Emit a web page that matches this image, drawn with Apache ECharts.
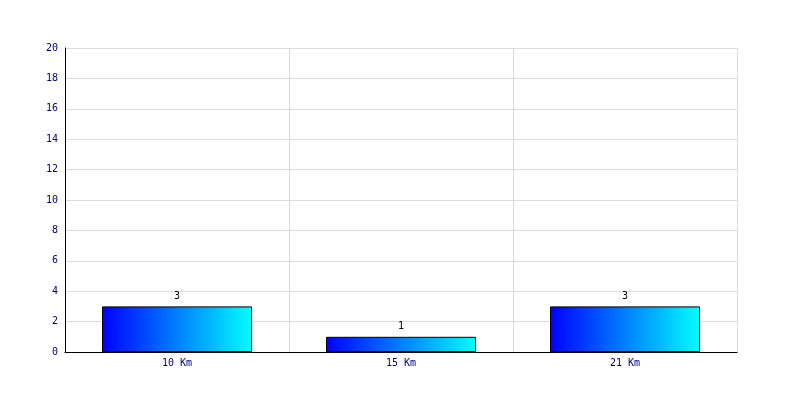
<!DOCTYPE html>
<html><head><meta charset="utf-8">
<script src="https://cdn.jsdelivr.net/npm/echarts@6/dist/echarts.min.js"></script>
<style>html,body{margin:0;padding:0;background:#fff}#c{width:800px;height:400px}</style>
</head><body><div id="c"></div>
<script>
var categories = ['10 Km', '15 Km', '21 Km'];
var values = [3, 1, 3];
var yMin = 0, yMax = 20, yInterval = 2;

var chart = echarts.init(document.getElementById('c'), null, {renderer: 'canvas'});
var font = 'DejaVu Sans Mono';
chart.setOption({
  animation: false,
  backgroundColor: '#fff',
  grid: {left: 65, right: 63, top: 48, bottom: 48},
  xAxis: {
    type: 'category', data: categories, boundaryGap: true,
    axisLine: {lineStyle: {color: '#000', width: 1}},
    axisTick: {show: false},
    axisLabel: {color: '#000080', fontFamily: font, fontSize: 10, margin: 6},
    splitLine: {show: true, lineStyle: {color: '#dddddd', width: 1}}
  },
  yAxis: {
    type: 'value', min: yMin, max: yMax, interval: yInterval,
    axisLine: {show: true, lineStyle: {color: '#000', width: 1}},
    axisTick: {show: false},
    axisLabel: {color: '#000080', fontFamily: font, fontSize: 10, margin: 7},
    splitLine: {show: true, lineStyle: {color: '#dddddd', width: 1}}
  },
  series: [{
    type: 'bar', data: values, barWidth: 150,
    itemStyle: {
      color: new echarts.graphic.LinearGradient(0, 0, 1, 0, [
        {offset: 0, color: '#0000ff'}, {offset: 1, color: '#00ffff'}
      ]),
      borderColor: '#000', borderWidth: 1
    },
    label: {show: true, position: 'top', color: '#000', fontFamily: font, fontSize: 10, distance: 5}
  }]
});
</script></body></html>
